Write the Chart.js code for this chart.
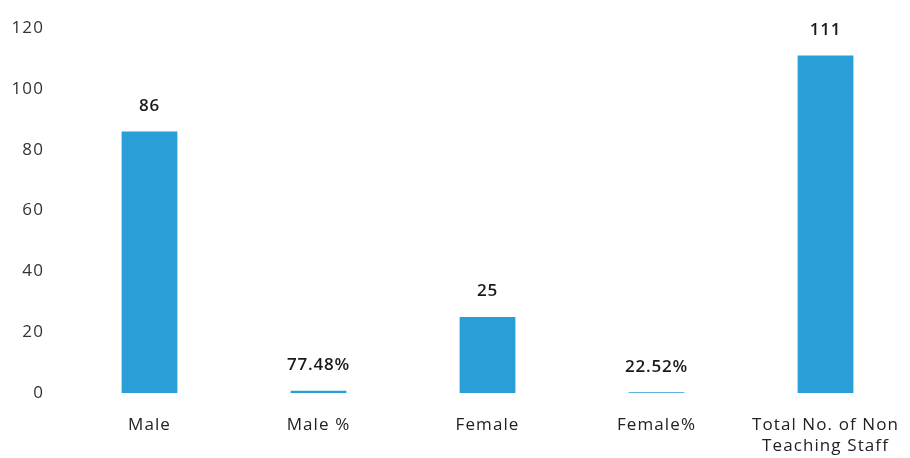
<!DOCTYPE html>
<html>
<head>
<meta charset="utf-8">
<script src="https://cdn.jsdelivr.net/npm/chart.js@4/dist/chart.umd.min.js"></script>
<style>
html,body{margin:0;padding:0;background:#fff;}
#wrap{width:910px;height:458px;position:relative;}
</style>
</head>
<body>
<div id="wrap"><canvas id="c"></canvas></div>
<script>
const categories = ["Male", "Male %", "Female", "Female%", ["Total No. of Non", "Teaching Staff"]];
const values = [86, 0.7748, 25, 0.2252, 111];
const valueLabels = ["86", "77.48%", "25", "22.52%", "111"];
const yTicks = [0, 20, 40, 60, 80, 100, 120];

const FONT = "'Open Sans', Lato, sans-serif";

const spacingPlugin = {
  id: 'spacing',
  beforeLayout(chart) { chart.ctx.letterSpacing = '1.1px'; },
  beforeDraw(chart) { chart.ctx.letterSpacing = '1.1px'; }
};

const labelPlugin = {
  id: 'valueLabels',
  afterDatasetsDraw(chart) {
    const ctx = chart.ctx;
    const meta = chart.getDatasetMeta(0);
    ctx.save();
    ctx.letterSpacing = '0.8px';
    ctx.font = "600 17px " + FONT;
    ctx.fillStyle = "#1a1a1a";
    ctx.textAlign = "center";
    ctx.textBaseline = "bottom";
    meta.data.forEach((bar, i) => {
      ctx.fillText(valueLabels[i], bar.x, bar.y - 17);
    });
    ctx.restore();
  }
};

new Chart(document.getElementById('c'), {
  type: 'bar',
  data: {
    labels: categories,
    datasets: [{
      data: values,
      backgroundColor: '#2a9ed6',
      borderWidth: 0,
      barPercentage: 0.66,
      categoryPercentage: 0.5
    }]
  },
  options: {
    responsive: true,
    maintainAspectRatio: false,
    animation: false,
    layout: { padding: { top: 28, left: 5, right: 0, bottom: 0 } },
    plugins: { legend: { display: false }, tooltip: { enabled: false } },
    scales: {
      x: {
        grid: { display: false, drawTicks: false },
        border: { display: false },
        afterFit(axis) { axis.height = 65; axis.paddingLeft = 0; axis.paddingRight = 0; },
        ticks: { color: '#222', font: { family: FONT, size: 17, lineHeight: 1.22 }, padding: 22, maxRotation: 0, autoSkip: false }
      },
      y: {
        min: 0, max: 120,
        grid: { display: false, drawTicks: false },
        border: { display: false },
        afterFit(axis) { axis.width = 60; axis.paddingTop = 0; axis.paddingBottom = 0; },
        afterBuildTicks(axis) { axis.ticks = yTicks.map(v => ({ value: v })); },
        ticks: { color: '#333', font: { family: FONT, size: 17 }, padding: 21 }
      }
    }
  },
  plugins: [spacingPlugin, labelPlugin]
});
</script>
</body>
</html>
